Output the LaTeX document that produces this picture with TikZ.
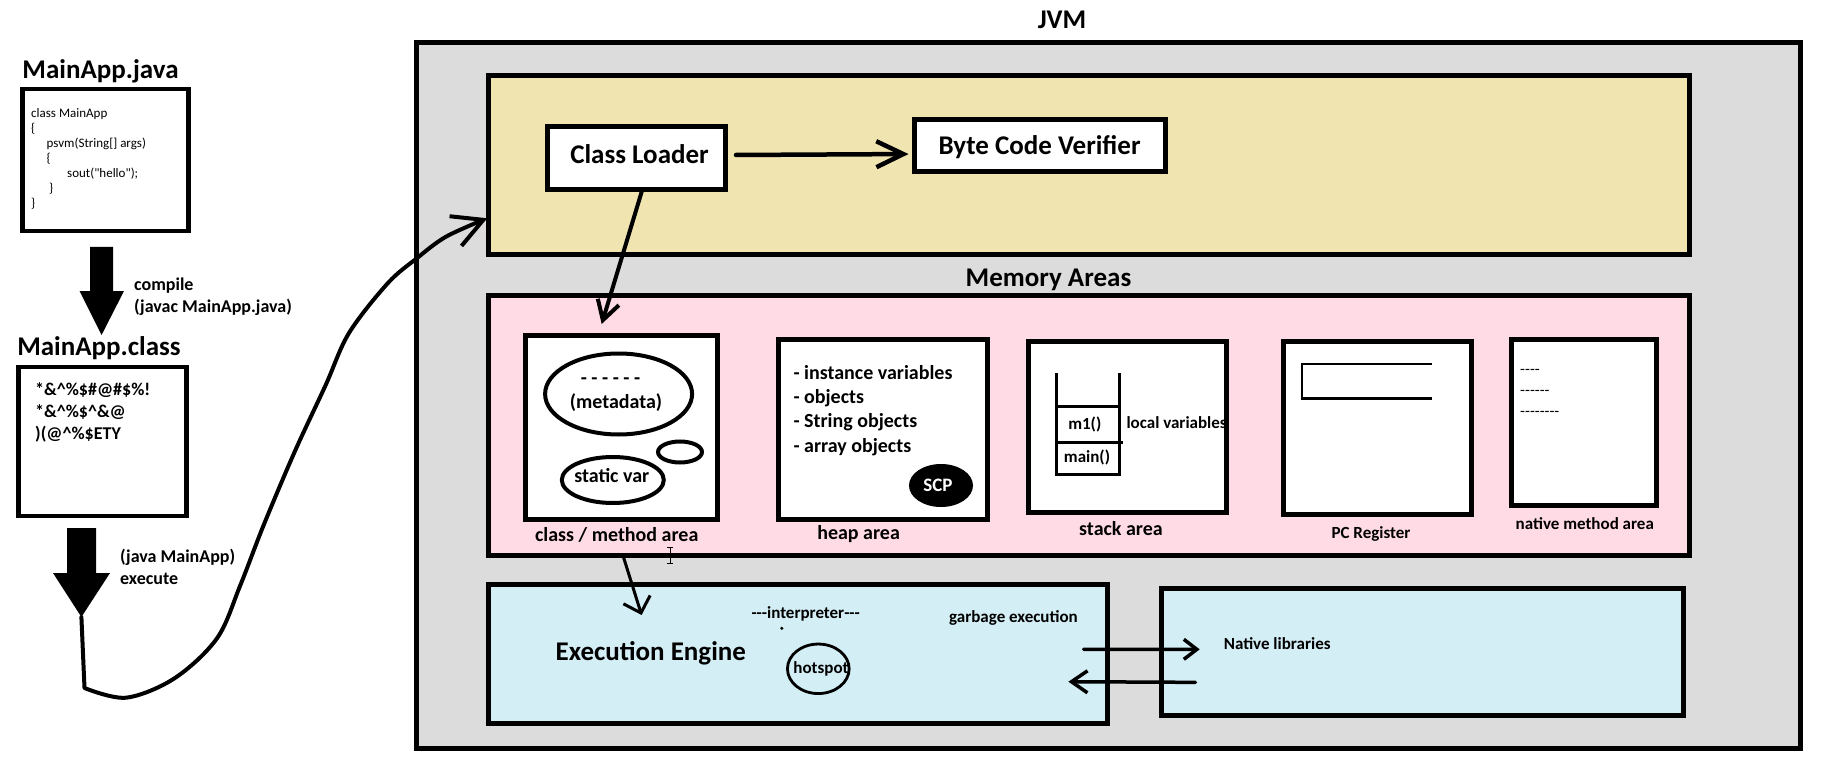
\documentclass[tikz,border=0pt]{standalone}
\usepackage{fontspec}
\setmainfont{Carlito}
\usetikzlibrary{arrows.meta,shapes.geometric,calc}
\newcommand\hy{\mbox{-}}
\definecolor{jvmgray}{HTML}{DCDCDC}
\definecolor{ldyellow}{HTML}{F0E4B0}
\definecolor{mapink}{HTML}{FFDBE6}
\definecolor{eeblue}{HTML}{D3EEF5}
\begin{document}
\begin{tikzpicture}[x=1pt,y=-1pt,
  box/.style={draw=black, line width=5pt, inner sep=0pt, outer sep=0pt, rectangle},
  ell/.style={draw=black, ellipse, inner sep=0pt, outer sep=0pt, line width=4pt},
  ftA/.style={font=\fontsize{27}{30}\selectfont\bfseries, inner sep=0pt, text height=17.4pt, text depth=0pt},
  ftB/.style={font=\fontsize{20}{24}\selectfont\bfseries, inner sep=0pt, text height=12.9pt, text depth=0pt},
  ftC/.style={font=\fontsize{18}{22}\selectfont\bfseries, inner sep=0pt, text height=11.6pt, text depth=0pt},
  ftD/.style={font=\fontsize{17}{20}\selectfont\bfseries, inner sep=0pt, text height=10.9pt, text depth=0pt},
  ftE/.style={font=\fontsize{13}{15}\selectfont, inner sep=0pt, text height=8.4pt, text depth=0pt},
  ftF/.style={font=\fontsize{16}{18}\selectfont, inner sep=0pt, text height=10.3pt, text depth=0pt},
  conn/.style={draw=black, line width=4.5pt, line cap=round, line join=round}
]
\useasboundingbox[fill=white] (0,0) rectangle (1824,770);

% main containers
\node[box, fill=jvmgray, minimum width=1383.5, minimum height=705.5] (jvm) at (1108.25,395.25) {};
\node[box, fill=ldyellow, minimum width=1201.5, minimum height=179.5] (loader) at (1088.75,165.25) {};
\node[box, fill=mapink, minimum width=1201.5, minimum height=260] (mem) at (1088.75,425) {};
\node[box, fill=eeblue, minimum width=619, minimum height=138.5] (ee) at (797.5,653.75) {};
\node[box, fill=eeblue, minimum width=522, minimum height=127.3] (nl) at (1422.5,651.7) {};

% inner boxes
\node[box, fill=white, minimum width=177.5, minimum height=63] (cl) at (636.25,158.5) {};
\node[box, fill=white, minimum width=251, minimum height=52.5] (bcv) at (1039.5,145.75) {};
\node[box, fill=white, minimum width=192, minimum height=184] (cm) at (621,427) {};
\node[box, fill=white, minimum width=209, minimum height=179.5] (heap) at (882.5,429.25) {};
\node[box, fill=white, minimum width=198, minimum height=171] (stack) at (1127,426.5) {};
\node[box, fill=white, minimum width=187.5, minimum height=173.7] (pc) at (1377.25,427.85) {};
\node[box, fill=white, minimum width=145, minimum height=166] (nm) at (1583.5,422) {};

% source / class files
\node[box, line width=4.7pt, fill=white, minimum width=166.4, minimum height=142] (javaf) at (105.5,160) {};
\node[box, line width=4.7pt, fill=white, minimum width=168.3, minimum height=149] (classf) at (102.6,441.5) {};

% ellipses
\node[ell, minimum width=147, minimum height=81] (meta) at (618.6,394) {};
\node[ell, minimum width=44, minimum height=21] (smallell) at (680,452) {};
\node[ell, minimum width=102, minimum height=46] (svar) at (612.8,480) {};
\node[ellipse, fill=black, inner sep=0pt, minimum width=64, minimum height=43] (scp) at (941,485.5) {};
\node[ell, line width=2.8pt, minimum width=61.7, minimum height=49.5] (hot) at (818.3,668.8) {};

% titles
\node[ftA] (jvmt) at (1062,20) {JVM};
\node[ftA] (javat) at (100.5,70) {MainApp.java};
\node[ftA] (classt) at (99,347) {MainApp.class};
\node[ftA] (clt) at (639.5,155) {Class Loader};
\node[ftA] (bcvt) at (1039.6,146) {Byte Code Verifier};
\node[ftA] (memt) at (1048.5,278) {Memory Areas};
\node[ftA] (eet) at (650.8,651.7) {Execution Engine};

% java source code
\node[ftE, anchor=west] (c1) at (31,113) {class MainApp};
\node[ftE, anchor=west] (c2) at (31,128) {\{};
\node[ftE, anchor=west] (c3) at (46.5,143) {psvm(String[] args)};
\node[ftE, anchor=west] (c4) at (46.5,158) {\{};
\node[ftE, anchor=west] (c5) at (67,173) {sout(\textquotedbl hello\textquotedbl);};
\node[ftE, anchor=west] (c6) at (49,188) {\}};
\node[ftE, anchor=west] (c7) at (31,203) {\}};

% byte code
\node[ftC, anchor=west] (b1) at (35,390) {*\&\textasciicircum\%\$\#@\#\$\%!};
\node[ftC, anchor=west] (b2) at (35,412) {*\&\textasciicircum\%\$\textasciicircum\&@};
\node[ftC, anchor=west] (b3) at (35,434) {)(@\textasciicircum\%\$ETY};

% step labels
\node[ftC, anchor=west] (comp1) at (134,285) {compile};
\node[ftC, anchor=west] (comp2) at (134,307) {(javac MainApp.java)};
\node[ftC, anchor=west] (ex1) at (120,557) {(java MainApp)};
\node[ftC, anchor=west] (ex2) at (120,579) {execute};

% class / method area
\node[ftB] (dasht) at (610.5,378) {- - - - - -};
\node[ftB] (metat) at (616,402) {(metadata)};
\node[ftB] (svart) at (611.8,476) {static var};
\node[ftB] (cmt) at (616.7,535) {class / method area};

% heap
\node[ftB, anchor=west] (h1) at (793.3,373) {- instance variables};
\node[ftB, anchor=west] (h2) at (793.3,397) {- objects};
\node[ftB, anchor=west] (h3) at (793.3,421) {- String objects};
\node[ftB, anchor=west] (h4) at (793.3,446) {- array objects};
\node[ftB, text=white, font=\fontsize{19}{22}\selectfont\bfseries] (scpt) at (938,485) {SCP};
\node[ftB] (heapt) at (858.6,533) {heap area};

% stack
\draw[line width=3pt] (1056.7,373) -- (1056.7,474) -- (1119.6,474) -- (1119.6,373);
\draw[line width=3pt] (1056.7,406.7) -- (1121,406.7);
\draw[line width=3pt] (1056.7,442) -- (1122.8,442);
\node[ftD] (m1t) at (1084.8,424) {m1()};
\node[ftD] (maint) at (1087,456.7) {main()};
\node[ftD, anchor=west] (lvt) at (1126.3,422.7) {local variables};
\node[ftB] (stackt) at (1121,529) {stack area};

% pc register
\draw[line width=2.8pt] (1431.7,364) -- (1302,364) -- (1302,398.3) -- (1431.7,398.3);
\node[ftD] (pct) at (1371,532.7) {PC Register};

% native method area
\node[ftF, anchor=west] (n1) at (1520,369.3) {\hy\hy\hy\hy};
\node[ftF, anchor=west] (n2) at (1520,390.7) {\hy\hy\hy\hy\hy\hy};
\node[ftF, anchor=west] (n3) at (1520,411) {\hy\hy\hy\hy\hy\hy\hy\hy};
\node[ftD] (nmt) at (1584.8,524) {native method area};

% execution engine
\node[ftD] (interp) at (805.7,613.3) {\hy\hy\hy interpreter\hy\hy\hy};
\fill (781.8,628.3) circle (1.7);
\node[ftD] (hott) at (821,667.7) {hotspot};
\node[ftD] (gct) at (1013.5,617.3) {garbage execution};
\node[ftD] (nlt) at (1277.2,644) {Native libraries};

% cursor
\draw[line width=1pt] (670,547) -- (670,563) (667,547) -- (673,547) (667,563) -- (673,563);

% thick arrows
\fill (90,247) -- (113,247) -- (113,291) -- (124,291) -- (101.6,335) -- (79.5,291) -- (90,291) -- cycle;
\fill (67,528) -- (96,528) -- (96,573) -- (110,573) -- (81.4,617) -- (53,573) -- (67,573) -- cycle;

% connectors
\draw[conn, -{Straight Barb[length=27pt,width=26pt]}] ([shift={(11,-3.5)}]cl.east) -- ([shift={(-5.5,8.3)}]bcv.west);
\draw[conn, line width=4pt, -{Straight Barb[length=19pt,width=22pt]}] ([shift={(5.45,1.7)}]cl.south) -- ([shift={(-19.3,-11)}]cm.north);
\draw[conn, line width=3pt, -{Straight Barb[length=14pt,width=28pt]}] ([shift={(2.75,39)}]cm.south) -- ([shift={(-155.9,30.5)}]ee.north);
\draw[conn, line width=3.5pt, -{Straight Barb[length=13pt,width=20pt]}] ([shift={(-23.4,-4.45)}]ee.east) -- ([shift={(38.2,-2.35)}]nl.west);
\draw[conn, line width=3.5pt, -{Straight Barb[length=16pt,width=22pt]}] ([shift={(33.9,30.65)}]nl.west) -- ([shift={(-38.6,27.95)}]ee.east);

\coordinate (exectip) at (81.4,617);
\coordinate (loadin) at ([shift={(-0.7,53)}]loader.west);
\draw[conn, line width=4pt, -{Straight Barb[length=30pt,width=32pt]}] (exectip) -- plot[smooth, tension=0.55] coordinates {(84.5,688) (126,697.7) (174.5,678.3) (217,638.3) (240.4,585) (263.7,525) (294.7,451.7) (325.7,385) (349,333) (387.7,283.3) (416.8,258.3) (446,236.7) (loadin)};
\end{tikzpicture}
\end{document}
